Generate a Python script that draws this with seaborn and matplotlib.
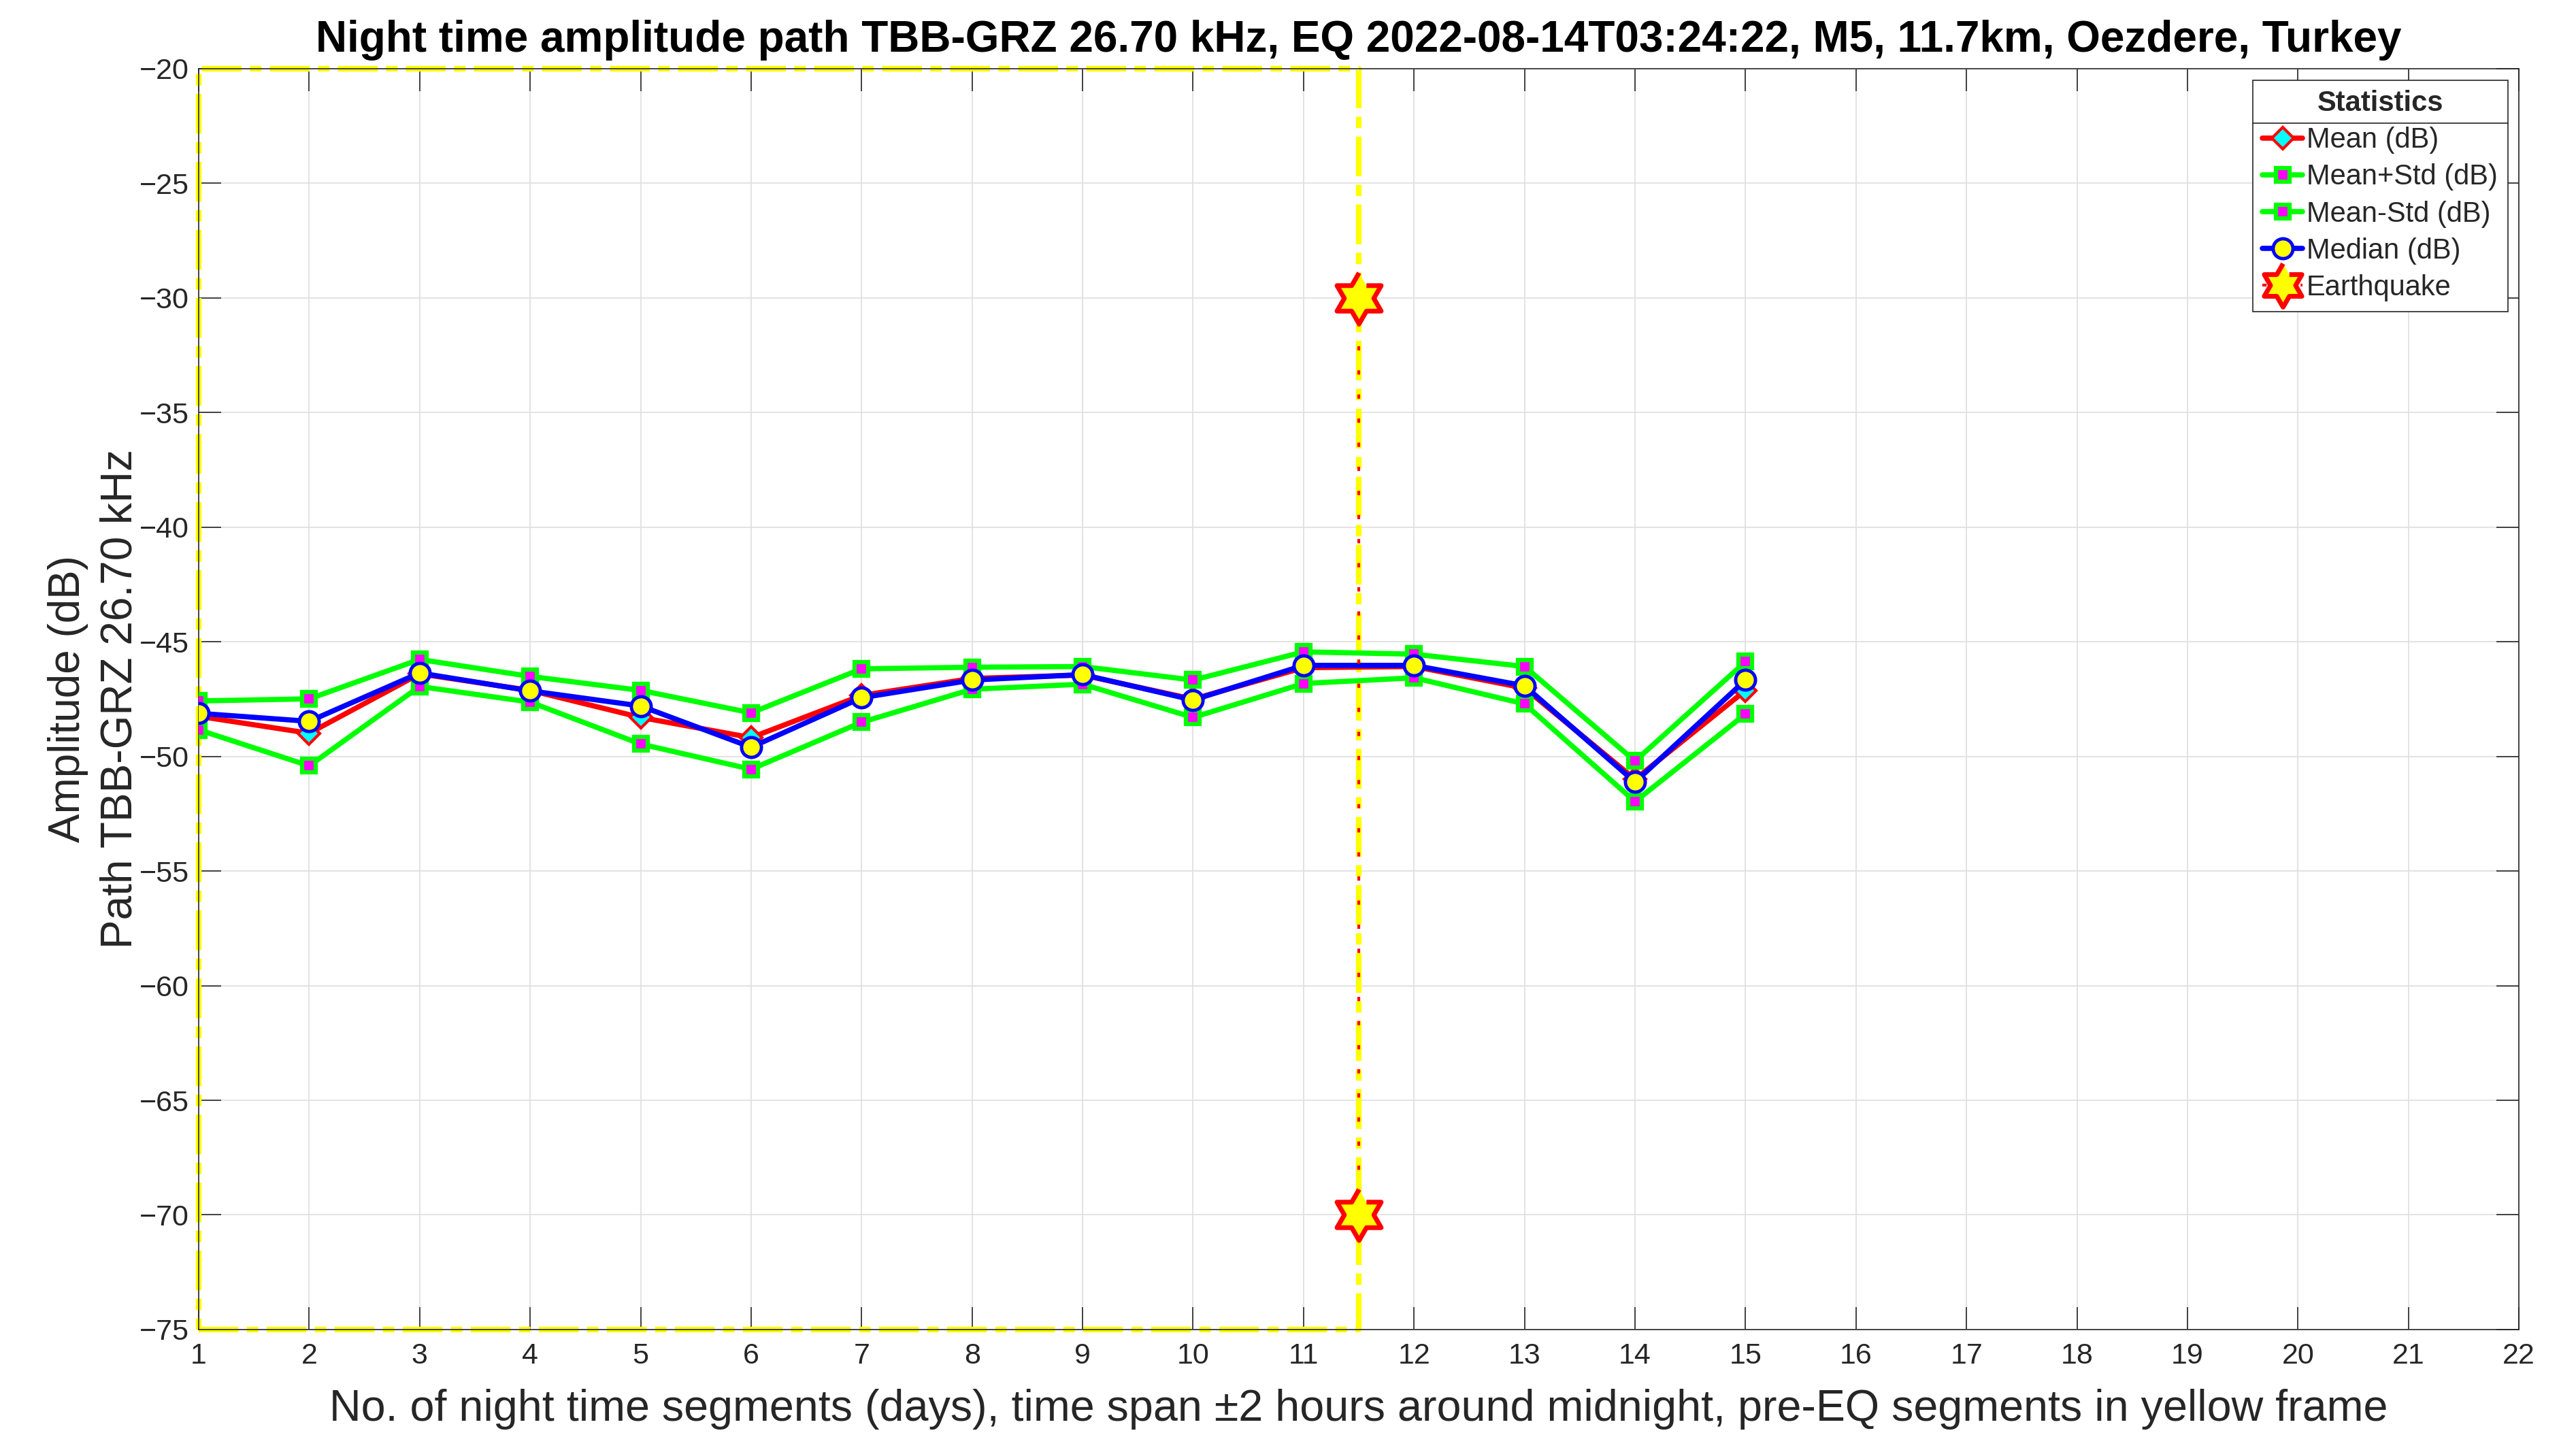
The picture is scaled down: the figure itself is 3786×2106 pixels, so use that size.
import numpy as np
import matplotlib
matplotlib.use("Agg")
import matplotlib.pyplot as plt
from matplotlib.lines import Line2D
import seaborn as sns

# night-time amplitude statistics per segment (dB)
days = [1, 2, 3, 4, 5, 6, 7, 8, 9, 10, 11, 12, 13, 14, 15]
mean_db = [-48.25, -48.99, -46.40, -47.12, -48.30, -49.18, -47.34, -46.60,
           -46.45, -47.50, -46.13, -46.08, -47.02, -51.00, -47.12]
mean_plus_std = [-47.58, -47.49, -45.77, -46.51, -47.12, -48.10, -46.18, -46.11,
                 -46.08, -46.67, -45.44, -45.54, -46.08, -50.20, -45.87]
mean_minus_std = [-48.84, -50.41, -46.95, -47.63, -49.46, -50.56, -48.51, -47.07,
                  -46.85, -48.30, -46.82, -46.57, -47.71, -51.97, -48.15]
median_db = [-48.12, -48.47, -46.36, -47.14, -47.80, -49.60, -47.44, -46.67,
             -46.43, -47.54, -46.03, -46.03, -46.92, -51.12, -46.67]

# earthquake marker line and pre-EQ frame
eq_x = [11.5, 11.5]
eq_y = [-30, -70]
frame_x = [1, 11.5, 11.5, 1, 1]
frame_y = [-75, -75, -20, -20, -75]

x_ticks = list(range(1, 23))
y_ticks = list(range(-75, -19, 5))

title = ("Night time amplitude path TBB-GRZ 26.70 kHz, EQ 2022-08-14T03:24:22, "
         "M5, 11.7km, Oezdere, Turkey")
xlabel = ("No. of night time segments (days), time span \u00b12 hours around midnight, "
          "pre-EQ segments in yellow frame")
ylabel = "Amplitude (dB)\nPath TBB-GRZ 26.70 kHz"

sns.set_style("ticks")
plt.rcParams['font.family'] = ['Liberation Sans', 'DejaVu Sans']

dark = "#262626"
green = "#00ff00"

fig = plt.figure(figsize=(37.87, 21.06), dpi=100)
ax = fig.add_axes([0.0771, 0.0722, 0.9005, 0.8799])

# six-pointed star (hexagram) marker
ang = np.deg2rad(90 + 30 * np.arange(12))
rad = np.where(np.arange(12) % 2 == 0, 1.0, 1 / np.sqrt(3))
hexagram = list(zip(rad * np.cos(ang), rad * np.sin(ang)))

mean_style = dict(color="red", linewidth=5.5, marker="D", markersize=16,
                  markerfacecolor="cyan", markeredgecolor="red", markeredgewidth=3)
std_style = dict(color=green, linewidth=5.5, marker="s", markersize=15,
                 markerfacecolor="magenta", markeredgecolor=green, markeredgewidth=4.5)
median_style = dict(color="blue", linewidth=5.5, marker="o", markersize=21,
                    markerfacecolor="yellow", markeredgecolor="blue", markeredgewidth=3.5)
eq_style = dict(color="red", linewidth=3, linestyle=(0, (1.5, 7)), marker=hexagram,
                markersize=54, markerfacecolor="yellow", markeredgecolor="red",
                markeredgewidth=5)

sns.lineplot(x=frame_x, y=frame_y, estimator=None, sort=False, ax=ax,
             color="yellow", linestyle=(0, (7, 1.5, 2, 1.5)), linewidth=6,
             clip_on=False, zorder=2)

sns.lineplot(x=days, y=mean_db, estimator=None, sort=False, ax=ax, zorder=3, **mean_style)
sns.lineplot(x=days, y=mean_plus_std, estimator=None, sort=False, ax=ax, zorder=3, **std_style)
sns.lineplot(x=days, y=mean_minus_std, estimator=None, sort=False, ax=ax, zorder=3, **std_style)
sns.lineplot(x=days, y=median_db, estimator=None, sort=False, ax=ax, zorder=4, **median_style)
sns.lineplot(x=eq_x, y=eq_y, estimator=None, sort=False, ax=ax, zorder=5,
             clip_on=False, **eq_style)

ax.set_xlim(1, 22)
ax.set_ylim(-75, -20)
ax.set_xticks(x_ticks)
ax.set_yticks(y_ticks)
ax.grid(True, color="#e0e0e0", linewidth=1.3)
ax.set_axisbelow(True)
for s in ax.spines.values():
    s.set_visible(True)
    s.set_color(dark)
    s.set_linewidth(1.2)
ax.tick_params(axis="both", direction="in", length=24, width=1.2, colors=dark,
               labelsize=31, top=True, right=True, labelcolor=dark)
ax.tick_params(axis="x", pad=14)
ax.tick_params(axis="y", pad=10)

ax.set_title(title, fontsize=46, fontweight="bold", pad=18, color="black")
ax.set_xlabel(xlabel, fontsize=46.5, color=dark)
ax.xaxis.set_label_coords(0.5, -0.047)
ax.set_ylabel(ylabel, fontsize=46, color=dark, multialignment="center", linespacing=1.35)
ax.yaxis.set_label_coords(-0.025, 0.5)

# legend
handles = [
    Line2D([], [], **mean_style),
    Line2D([], [], **std_style),
    Line2D([], [], **std_style),
    Line2D([], [], **median_style),
    Line2D([], [], **{**eq_style, "linestyle": (0, (1.5, 3)), "markersize": 46}),
]
labels = ["Mean (dB)", "Mean+Std (dB)", "Mean-Std (dB)", "Median (dB)", "Earthquake"]
leg = ax.legend(handles, labels, loc="upper right", fontsize=30, title="Statistics",
                title_fontproperties={"weight": "bold", "size": 30},
                fancybox=False, framealpha=1, edgecolor=dark, borderaxespad=0.4,
                handlelength=1.4, handletextpad=0.15, labelspacing=0.34,
                borderpad=0.35)
leg.get_frame().set_linewidth(1.2)

# separator line under the legend title
fig.canvas.draw()
r = fig.canvas.get_renderer()
tb = leg.get_title().get_window_extent(r)
lb = leg.get_window_extent(r)
inv = fig.transFigure.inverted()
(x0, y0), (x1, _) = inv.transform([(lb.x0, tb.y0 - 9), (lb.x1, tb.y0 - 9)])
fig.add_artist(Line2D([x0, x1], [y0, y0], transform=fig.transFigure,
                      color=dark, linewidth=1.2, zorder=10))

fig.savefig("out.png", dpi=100)
